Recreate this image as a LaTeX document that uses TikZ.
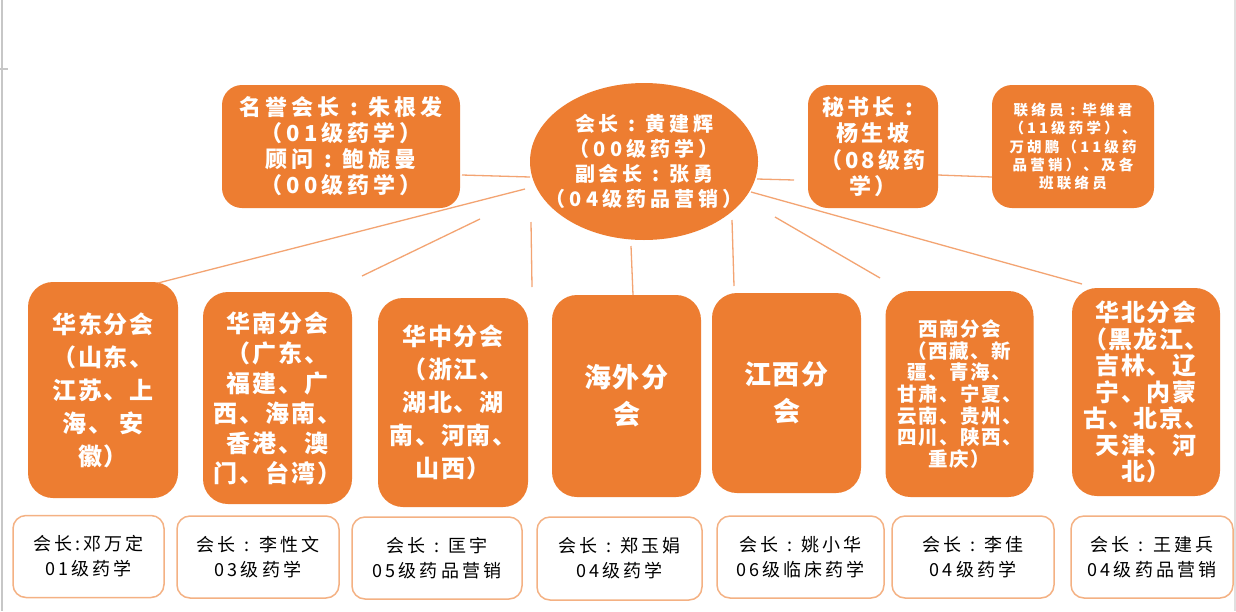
\documentclass[tikz,border=0pt]{standalone}
\usepackage{fontspec}
\newfontfamily\cjk{Noto Sans CJK SC}
\usetikzlibrary{shapes.geometric}
\definecolor{orng}{HTML}{ED7D31}
\definecolor{lnc}{HTML}{F3A472}
\definecolor{bdr}{HTML}{F4B183}
\newcommand{\fs}[3]{\cjk\fontsize{#1}{#2}\selectfont\addfontfeatures{LetterSpace=#3}}
\newcommand{\fb}[3]{\cjk\bfseries\fontsize{#1}{#2}\selectfont\addfontfeatures{LetterSpace=#3}}
\newcommand{\cc}{\makebox[1.3em][c]{:}}
\tikzset{
  obox/.style={fill=orng, draw=none, rounded corners=25pt, inner sep=0pt, text=white, align=center},
  tbox/.style={obox, rounded corners=20pt},
  wbox/.style={fill=white, draw=bdr, line width=1.5pt, rounded corners=13pt, inner sep=0pt, align=center, text=black, font=\fs{18}{25}{17}},
  conn/.style={draw=lnc, line width=1.3pt},
}
\begin{document}
\begin{tikzpicture}[x=1pt,y=-1pt]
\path[use as bounding box, fill=white] (0,0) rectangle (1236,611);
\draw[black!22, line width=2pt] (2,0) -- (2,611);
\draw[black!22, line width=1.5pt] (0,69) -- (8,69);
\draw[black!12, line width=1.5pt] (1235,0) -- (1235,611);

% top row
\node[tbox, minimum width=238pt, minimum height=123pt, font=\fb{22}{26}{18}] (mingyu) at (341,146.5)
  {名誉会长\cc 朱根发\\（01级药学）\\顾问\cc 鲍旎曼\\（00级药学）};
\node[ellipse, fill=orng, inner sep=0pt, minimum width=228pt, minimum height=157pt] (pres) at (644,161.5) {};
\node[text=white, align=center, inner sep=0pt, font=\fb{20}{25}{20}] (prestext) at (pres.center)
  {会长\cc 黄建辉\\（00级药学）\\副会长\cc 张勇\\（04级药品营销）};
\node[tbox, minimum width=130pt, minimum height=123pt, font=\fb{22}{26.5}{15}] (sec) at (873,146.5)
  {秘书长\cc\\杨生坡\\（08级药\\学）};
\node[tbox, minimum width=162pt, minimum height=123pt, font=\fb{14.5}{18.3}{22}] (liaison) at (1073,146.5)
  {联络员\cc 毕维君\\（11级药学）、\\万胡鹏（11级药\\品营销）、及各\\班联络员};

% branch boxes
\node[obox, minimum width=150pt, minimum height=216pt, font=\fb{24}{33}{8}] (hd) at (103,390)
  {华东分会\\（山东、\\江苏、上\\海、 安\\徽）};
\node[obox, minimum width=149pt, minimum height=212pt, font=\fb{24}{30}{8}] (hn) at (277.5,398)
  {华南分会\\（广东、\\福建、广\\西、海南、\\香港、澳\\门、台湾）};
\node[obox, minimum width=150pt, minimum height=209pt, font=\fb{24}{33}{8}] (hz) at (453,402.5)
  {华中分会\\（浙江、\\湖北、湖\\南、河南、\\山西）};
\node[obox, minimum width=149pt, minimum height=202pt, font=\fb{27}{37}{6}] (hw) at (626.5,396)
  {海外分\\会};
\node[obox, minimum width=149pt, minimum height=200pt, font=\fb{27}{37}{6}] (jx) at (786.5,393)
  {江西分\\会};
\node[obox, minimum width=148pt, minimum height=206pt, font=\fb{19.5}{21.7}{8}] (xn) at (959.5,394)
  {西南分会\\（西藏、新\\疆、青海、\\甘肃、宁夏、\\云南、贵州、\\四川、陕西、\\重庆）};
\node[obox, minimum width=148pt, minimum height=208pt, font=\fb{24}{26.5}{6}] (hb) at (1146,392)
  {华北分会\\（黑龙江、\\吉林、辽\\宁、内蒙\\古、北京、\\天津、河\\北）};

% president boxes
\node[wbox, minimum width=151pt, minimum height=82pt] (p1) at (88.5,556.5) {会长:邓万定\\01级药学};
\node[wbox, minimum width=162pt, minimum height=82pt] (p2) at (258,557) {会长\cc 李性文\\03级药学};
\node[wbox, minimum width=170pt, minimum height=82pt] (p3) at (437,558) {会长\cc 匡宇\\05级药品营销};
\node[wbox, minimum width=165pt, minimum height=83pt] (p4) at (619.5,558.5) {会长\cc 郑玉娟\\04级药学};
\node[wbox, minimum width=167pt, minimum height=82pt] (p5) at (800.5,557) {会长\cc 姚小华\\06级临床药学};
\node[wbox, minimum width=162pt, minimum height=82pt] (p6) at (973,557) {会长\cc 李佳\\04级药学};
\node[wbox, minimum width=162pt, minimum height=82pt] (p7) at (1152,557) {会长\cc 王建兵\\04级药品营销};

% connector end points
\coordinate (c1a) at (462,175); \coordinate (c1b) at (530,177);
\coordinate (c2a) at (757,179); \coordinate (c2b) at (794,180);
\coordinate (c3a) at (938,175); \coordinate (c3b) at (992,177);
\coordinate (c4a) at (525,189); \coordinate (c4b) at (158,283);
\coordinate (c5a) at (480,219); \coordinate (c5b) at (362,276);
\coordinate (c6a) at (531,222); \coordinate (c6b) at (532,287);
\coordinate (c7a) at (631,246); \coordinate (c7b) at (633,295);
\coordinate (c8a) at (732,220); \coordinate (c8b) at (734,286);
\coordinate (c9a) at (775,217); \coordinate (c9b) at (880,278);
\coordinate (c10a) at (751,192); \coordinate (c10b) at (1082,284);
\foreach \i in {1,...,10} {\draw[conn] (c\i a) -- (c\i b);}
\end{tikzpicture}
\end{document}
